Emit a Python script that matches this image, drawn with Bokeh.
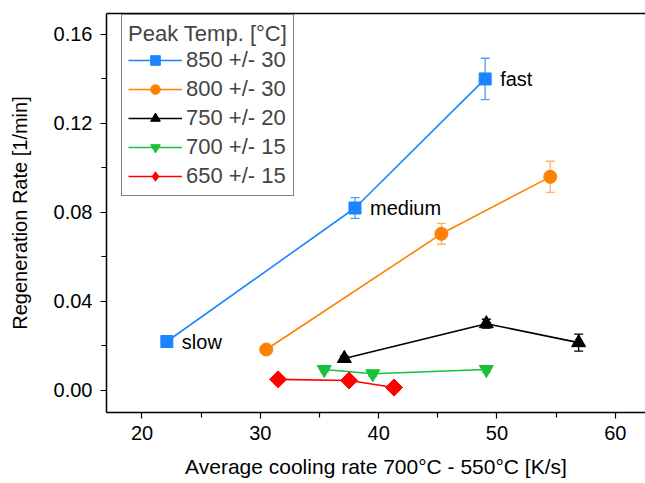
import math
from bokeh.plotting import figure
from bokeh.models import (ColumnDataSource, Whisker, TeeHead, FixedTicker, LinearAxis,
                          NumeralTickFormatter, Range1d, Legend, LegendItem)
from bokeh.core.properties import value
from bokeh.embed import file_html
from bokeh.resources import INLINE

# ---- data ----
x850 = [22.1, 38.0, 49.0]
y850 = [0.022, 0.082, 0.140]
e850 = [0.0, 0.0047, 0.0093]

x800 = [30.5, 45.3, 54.5]
y800 = [0.0184, 0.0704, 0.096]
e800 = [0.0, 0.0047, 0.007]

x750 = [37.1, 49.1, 56.9]
y750 = [0.0144, 0.030, 0.0215]
e750 = [0.001, 0.002, 0.0038]

x700 = [35.4, 39.5, 49.1]
y700 = [0.0094, 0.0075, 0.0094]
e700 = [0.001, 0.001, 0.001]

x650 = [31.5, 37.5, 41.3]
y650 = [0.005, 0.0045, 0.0013]
e650 = [0.0, 0.0, 0.0]

labels = ["850 +/- 30", "800 +/- 30", "750 +/- 20", "700 +/- 15", "650 +/- 15"]
speed_labels = ["slow", "medium", "fast"]

x_ticks = [20, 30, 40, 50, 60]
x_minor = [25, 35, 45, 55]
y_ticks = [0.0, 0.04, 0.08, 0.12, 0.16]
y_minor = [0.02, 0.06, 0.10, 0.14]

FONT = "Liberation Sans"

p = figure(width=645, height=483, output_backend="svg", toolbar_location=None,
           x_range=Range1d(17.0, 62.55), y_range=Range1d(-0.0099, 0.1694),
           min_border_left=106, min_border_right=0, min_border_top=13, min_border_bottom=71)
p.outline_line_color = None
p.xgrid.visible = False
p.ygrid.visible = False
p.background_fill_color = "white"
p.border_fill_color = "white"

for ax in (p.xaxis[0], p.yaxis[0]):
    ax.axis_line_width = 1.5
    ax.axis_line_color = "black"
    ax.major_tick_line_color = "black"
    ax.minor_tick_line_color = "black"
    ax.major_tick_line_width = 1.2
    ax.minor_tick_line_width = 1.2
    ax.major_tick_out = 6
    ax.major_tick_in = 0
    ax.minor_tick_out = 5
    ax.minor_tick_in = 0
    ax.major_label_text_font = FONT
    ax.major_label_text_font_size = "20px"
    ax.major_label_text_color = "black"
    ax.axis_label_text_font = FONT
    ax.axis_label_text_font_style = "normal"
    ax.axis_label_text_color = "black"

p.xaxis[0].axis_label_text_font_size = "21px"
p.yaxis[0].axis_label_text_font_size = "20px"
p.xaxis[0].ticker = FixedTicker(ticks=x_ticks, minor_ticks=x_minor)
p.yaxis[0].ticker = FixedTicker(ticks=y_ticks, minor_ticks=y_minor)
p.yaxis[0].formatter = NumeralTickFormatter(format="0.00")
p.xaxis[0].axis_label = "Average cooling rate 700°C - 550°C [K/s]"
p.yaxis[0].axis_label = "Regeneration Rate [1/min]"
p.xaxis[0].major_label_standoff = 7
p.xaxis[0].axis_label_standoff = 12
p.yaxis[0].major_label_standoff = 8
p.yaxis[0].axis_label_standoff = 20

top = LinearAxis(ticker=FixedTicker(ticks=[]), major_label_text_font_size="0px",
                 axis_line_width=1.5, major_tick_out=0, minor_tick_out=0)
p.add_layout(top, "above")

series = [
    (x850, y850, e850, "#1a85ff", "#4aa0ff", "square", 12, 0.0, "square"),
    (x800, y800, e800, "#ff8000", "#f9b46c", "circle", 13, 0.0, "circle"),
    (x750, y750, e750, "black", "black", "triangle", 14, 0.0, "triangle"),
    (x700, y700, e700, "#19c13a", "#19c13a", "inverted_triangle", 14, 0.0, "inverted_triangle"),
    (x650, y650, e650, "#ff0000", "#ff0000", "square", 12, math.pi / 4, "diamond"),
]

items = []
for (xs, ys, es, col, ecol, mk, sz, ang, legmk), lab in zip(series, labels):
    src = ColumnDataSource(dict(x=xs, y=ys, lo=[y - e for y, e in zip(ys, es)],
                                hi=[y + e for y, e in zip(ys, es)]))
    w = Whisker(base="x", lower="lo", upper="hi", source=src, dimension="height",
                line_color=ecol, line_width=1.3,
                upper_head=TeeHead(size=9, line_color=ecol, line_width=1.3),
                lower_head=TeeHead(size=9, line_color=ecol, line_width=1.3))
    p.add_layout(w)
    l = p.line("x", "y", source=src, line_color=col, line_width=1.6)
    s = p.scatter("x", "y", source=src, marker=mk, size=sz, angle=ang,
                  fill_color=col, line_color=col)
    if legmk != mk:
        # same points, same colour, hidden inside the rotated square: gives the legend a diamond
        s = p.scatter("x", "y", source=src, marker=legmk, size=16,
                      fill_color=col, line_color=col)
    items.append(LegendItem(label=lab, renderers=[l, s]))

tsrc = ColumnDataSource(dict(x=x850, y=y850, t=speed_labels))
p.text("x", "y", text="t", source=tsrc, x_offset=15, text_baseline="middle",
       text_font=value(FONT), text_font_size="20px", text_color="black")

legend = Legend(items=items, location=(15, 216), title="Peak Temp. [°C]",
                title_text_font=FONT, title_text_font_size="22px",
                title_text_font_style="normal", label_text_font=FONT,
                label_text_font_size="22px", border_line_color="black", border_line_width=1.2,
                glyph_width=54, glyph_height=24, label_height=24, spacing=3,
                label_standoff=4, padding=6, title_standoff=0, background_fill_alpha=1.0)
p.add_layout(legend)

open("out.html", "w").write(file_html(p, INLINE))
